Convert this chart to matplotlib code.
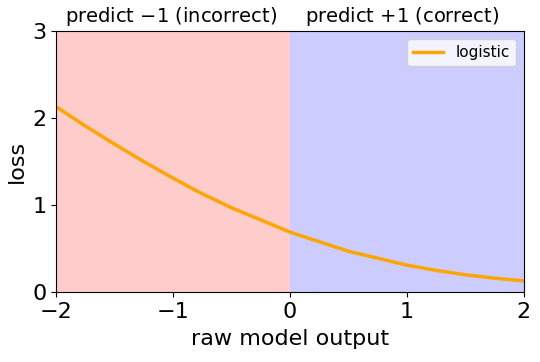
import numpy as np
import matplotlib.pyplot as plt

# values
raw_output = [-2.0, -1.75, -1.5, -1.25, -1.0, -0.75, -0.5, -0.25, 0.0,
              0.25, 0.5, 0.75, 1.0, 1.25, 1.5, 1.75, 2.0]
logistic_loss = [2.13, 1.91, 1.70, 1.50, 1.31, 1.13, 0.97, 0.83, 0.69,
                 0.58, 0.47, 0.39, 0.31, 0.25, 0.20, 0.16, 0.13]

fig = plt.figure(figsize=(5.4, 3.62), dpi=100)
ax = fig.add_axes([0.104, 0.193, 0.866, 0.721])

ax.axvspan(-2, 0, color='#ffcccc', lw=0)
ax.axvspan(0, 2, color='#ccccff', lw=0)
ax.plot(raw_output, logistic_loss, color='orange', lw=2.5, label='logistic')

ax.set_xlim(-2, 2)
ax.set_ylim(0, 3)
ax.set_xticks([-2, -1, 0, 1, 2])
ax.set_yticks([0, 1, 2, 3])
ax.tick_params(labelsize=16)
ax.set_xlabel('raw model output', fontsize=16, labelpad=5)
ax.set_ylabel('loss', fontsize=16)

ax.text(-1.02, 3.04, 'predict $-1$ (incorrect)', ha='center', va='bottom', fontsize=14)
ax.text(0.96, 3.04, 'predict $+1$ (correct)', ha='center', va='bottom', fontsize=14)
ax.legend(loc='upper right', fontsize=11)

fig.savefig('out.png', dpi=100)
